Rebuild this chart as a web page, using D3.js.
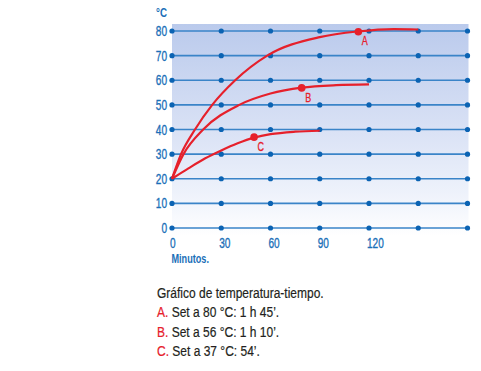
<!DOCTYPE html>
<html><head><meta charset="utf-8">
<script src="https://cdn.jsdelivr.net/npm/d3@7"></script>
<style>
body{margin:0;background:#fff;}
text{font-family:"Liberation Sans",Arial,sans-serif;}
</style></head>
<body><svg id="c" width="481" height="371"></svg>
<script>
const xTicks = [0, 30, 60, 90, 120];
const xGrid = [0, 30, 60, 90, 120, 150, 180];
const yTicks = [0, 10, 20, 30, 40, 50, 60, 70, 80];
const seriesA = [[0,20],[5.5,30],[14,40],[24.5,50],[38.5,60],[58,70],[90,77.5],[113,79.8],[135,80.8],[150,80.6]];
const seriesB = [[0,20],[7,30],[19,40],[41,50],[60,54.6],[79,57],[100,58],[120,58.3]];
const seriesC = [[0,20],[10,24.2],[20,28.2],[30,31.5],[40,34.4],[50,36.7],[60,38.1],[75,39.1],[90,39.5]];
const markers = [{name:"A",t:113.5,v:79.7},{name:"B",t:79,v:56.9},{name:"C",t:50,v:36.9}];
const captionTitle = "Gráfico de temperatura-tiempo.";
const captionLines = [["A.", " Set a 80 °C: 1 h 45’."],["B.", " Set a 56 °C: 1 h 10’."],["C.", " Set a 37 °C: 54’."]];

const svg = d3.select("#c");
const x = d3.scaleLinear().domain([0,180]).range([172,467.5]);
const y = d3.scaleLinear().domain([0,80]).range([228,31]);
const blue = "#3a84c8", dotBlue = "#0b63b3", red = "#e6202b", labBlue = "#1a6fb8";

function ctext(parent, px, py, k) {
  return parent.append("text").attr("transform", `translate(${px},${py}) scale(${k},1)`);
}

const defs = svg.append("defs");
const g = defs.append("linearGradient").attr("id","bg").attr("x1",0).attr("y1",0).attr("x2",0).attr("y2",1);
g.append("stop").attr("offset","0%").attr("stop-color","#bacaec");
g.append("stop").attr("offset","45%").attr("stop-color","#d6dff4");
g.append("stop").attr("offset","80%").attr("stop-color","#eef2fb");
g.append("stop").attr("offset","100%").attr("stop-color","#ffffff");
svg.append("rect").attr("x",x(0)).attr("y",24).attr("width",x(180)-x(0)+1).attr("height",y(0)+8-24).attr("fill","url(#bg)");

svg.append("g").selectAll("line").data(yTicks).join("line")
  .attr("x1",x(0)).attr("x2",x(180)).attr("y1",d=>y(d)).attr("y2",d=>y(d))
  .attr("stroke",blue).attr("stroke-width",1.6);
const pts = [];
yTicks.forEach(v=>xGrid.forEach(t=>pts.push([t,v])));
svg.append("g").selectAll("circle").data(pts).join("circle")
  .attr("cx",d=>x(d[0])).attr("cy",d=>y(d[1])).attr("r",2.6).attr("fill",dotBlue);

yTicks.forEach(v=>{
  ctext(svg, 167, y(v)+5, 0.72).attr("text-anchor","end").attr("fill",labBlue)
    .attr("stroke",labBlue).attr("stroke-width",0.35).attr("font-size",14).text(v);
});
ctext(svg, 156, 16.7, 0.78).attr("fill",labBlue).attr("font-size",12.5).attr("font-weight","bold").text("°C");
xTicks.forEach(t=>{
  ctext(svg, x(t)-2, 248, 0.72).attr("fill",labBlue).attr("stroke",labBlue).attr("stroke-width",0.35)
    .attr("font-size",14).text(t);
});
ctext(svg, 171.5, 262.5, 0.76).attr("fill",labBlue).attr("font-size",12).attr("font-weight","bold").text("Minutos.");

const line = d3.line().x(d=>x(d[0])).y(d=>y(d[1])).curve(d3.curveMonotoneX);
[seriesA, seriesB, seriesC].forEach(s=>{
  svg.append("path").attr("d",line(s)).attr("fill","none").attr("stroke",red).attr("stroke-width",2.2);
});
svg.append("g").selectAll("circle").data(markers).join("circle")
  .attr("cx",d=>x(d.t)).attr("cy",d=>y(d.v)).attr("r",3.8).attr("fill",red);
markers.forEach(m=>{
  ctext(svg, x(m.t)+3.5, y(m.v)+13.7, 0.72).attr("fill",red).attr("stroke",red).attr("stroke-width",0.3)
    .attr("font-size",12.5).text(m.name);
});

ctext(svg, 157, 298, 0.8).attr("fill","#231f20").attr("stroke","#231f20").attr("stroke-width",0.2).attr("font-size",15).text(captionTitle);
captionLines.forEach((l,i)=>{
  const t = ctext(svg, 157, 317.3+i*19.3, 0.8).attr("font-size",15).attr("stroke-width",0.2);
  t.append("tspan").attr("fill",red).attr("stroke",red).text(l[0]);
  t.append("tspan").attr("fill","#231f20").attr("stroke","#231f20").text(l[1]);
});
</script></body></html>
